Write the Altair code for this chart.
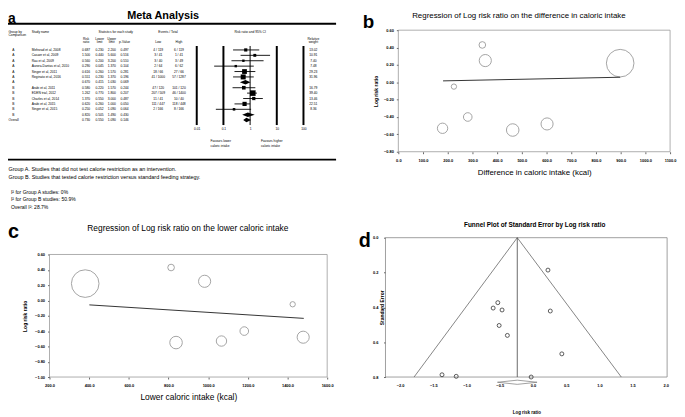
import altair as alt
import pandas as pd

FONT = "Liberation Sans"
W, H = 677, 409

# ---------------- panel a : meta-analysis table ----------------
a_group = ["A", "A", "A", "A", "A", "A", "A", "B", "B", "B", "B", "B", "B", "Overall"]
a_study = ["Mehrzad et al, 2008", "Casaer et al, 2009", "Rau et al, 2009",
           "Aurora-Dantas et al, 2010", "Singer et al, 2011", "Reginato et al, 2016", "",
           "Arabi et al, 2011", "EDEN trial, 2012", "Charles et al, 2014",
           "Arabi et al, 2015", "Singer et al, 2015", "", ""]
a_rr = [0.687, 1.500, 0.560, 0.290, 0.616, 0.551, 0.670, 0.580, 1.262, 1.370, 0.620, 0.250, 0.820, 0.730]
a_lo = [0.230, 0.440, 0.200, 0.045, 0.260, 0.230, 0.415, 0.220, 0.770, 0.550, 0.260, 0.052, 0.505, 0.550]
a_hi = [2.200, 5.600, 3.200, 1.370, 1.570, 1.370, 1.030, 1.570, 1.800, 3.000, 1.000, 1.090, 1.490, 1.090]
a_p = [0.497, 0.516, 0.510, 0.104, 0.281, 0.196, 0.069, 0.244, 0.207, 0.487, 0.050, 0.064, 0.430, 0.146]
a_low = ["4 / 119", "3 / 41", "3 / 40", "2 / 64", "18 / 66", "41 / 1000", "",
         "47 / 120", "207 / 509", "11 / 41", "111 / 447", "2 / 166", "", ""]
a_high = ["6 / 119", "1 / 41", "3 / 49", "6 / 62", "27 / 66", "57 / 1287", "",
          "101 / 120", "46 / 1400", "10 / 40", "118 / 448", "8 / 166", "", ""]
a_weight = [13.02, 10.91, 7.40, 7.48, 29.23, 31.96, None, 16.79, 39.40, 13.46, 22.51, 8.36, None, None]
a_summary = [6, 12, 13]
forest_ticks = [0.01, 0.1, 1, 10, 100]
forest_tick_width = [2, 2, 1, 2, 2]

# ---------------- panels b, c : meta-regressions ----------------
diff_kcal = [340, 352, 225, 281, 179, 463, 602, 898]
lower_kcal = [813, 982, 1426, 1182, 1067, 838, 1479, 380]
log_rr = [0.43, 0.25, -0.05, -0.40, -0.53, -0.55, -0.48, 0.22]
study_weight = [4.5, 15.1, 2.9, 7.6, 11.0, 16.1, 15.0, 78.0]
b_fit_x = [181, 898]
b_fit_y = [0.016, 0.058]
c_fit_x = [401, 1482]
c_fit_y = [-0.058, -0.234]
b_xticks = [0, 100, 200, 300, 400, 500, 600, 700, 800, 900, 1000, 1100]
b_yticks = [-0.8, -0.6, -0.4, -0.2, 0.0, 0.2, 0.4, 0.6]
c_xticks = [200, 400, 600, 800, 1000, 1200, 1400, 1600]
c_yticks = [-1.0, -0.8, -0.6, -0.4, -0.2, 0.0, 0.2, 0.4, 0.6]

# ---------------- panel d : funnel plot ----------------
d_lrr = [0.226, 0.261, 0.435, -0.529, -0.599, -0.465, -0.509, -0.385, -1.369, -1.155, -0.027]
d_se = [0.186, 0.421, 0.667, 0.373, 0.404, 0.415, 0.504, 0.561, 0.787, 0.796, 0.800]
funnel_x = [-1.79, -0.236, 1.33]
funnel_se = [0.8, 0.0, 0.8]
d_center = -0.236
d_ci = [-0.534, 0.062]
d_xdomain = [-2.22, 2.02]
d_xticks = [-2.0, -1.5, -1.0, -0.5, 0.0, 0.5, 1.0, 1.5, 2.0]
d_yticks = [0.0, 0.2, 0.4, 0.6, 0.8]


def txt(s, x, y, size, weight="normal", align="left", baseline="middle"):
    return alt.Chart(pd.DataFrame({"t": [s]})).mark_text(
        font=FONT, fontSize=size, fontWeight=weight, align=align, baseline=baseline, color="black"
    ).encode(x=alt.value(x), y=alt.value(y), text="t:N")


def hline(x1, x2, y, w):
    return alt.Chart(pd.DataFrame({"k": [0]})).mark_rule(color="black", strokeWidth=w).encode(
        x=alt.value(x1), x2=alt.value(x2), y=alt.value(y))


def axis(orient, offset, values, fmt, title, tsize, tweight, tpad, ticks=True, lpad=3, **extra):
    return alt.Axis(orient=orient, offset=offset, values=values, format=fmt, title=title,
                    titleFontSize=tsize, titleFontWeight=tweight, titlePadding=tpad,
                    titleColor="black", titleFont=FONT, labelFont=FONT,
                    labelFontSize=4, labelFontWeight="bold", labelColor="black",
                    labelPadding=lpad, ticks=ticks, tickSize=2, tickColor="#666",
                    domain=False, grid=False, labelFlush=False, labelOverlap=False, **extra)


layers = []

# ===== panel a =====
tx = alt.Scale(domain=[0, 1, 2, 3, 4, 5, 6, 7, 8],
               range=[5.5, 24, 79, 92.7, 105, 118, 152, 173, 309], nice=False, zero=False)
ry = alt.Scale(domain=[0, 13], range=[40, 111], nice=False, zero=False)

cells = []
for r in range(13):
    cells.append((r, 0, a_group[r]))
for r in range(14):
    cells.append((r, 2, f"{a_rr[r]:.3f}"))
    cells.append((r, 3, f"{a_lo[r]:.3f}"))
    cells.append((r, 4, f"{a_hi[r]:.3f}"))
    cells.append((r, 5, f"{a_p[r]:.3f}"))
    cells.append((r, 6, a_low[r]))
    cells.append((r, 7, a_high[r]))
    cells.append((r, 8, "" if a_weight[r] is None else f"{a_weight[r]:.2f}"))
headers = [(-2.0, 2, "Risk"), (-1.45, 2, "ratio"), (-2.0, 3, "Lower"), (-1.45, 3, "limit"),
           (-2.0, 4, "Upper"), (-1.45, 4, "limit"), (-1.45, 5, "p-Value"),
           (-1.45, 6, "Low"), (-1.45, 7, "High"), (-2.0, 8, "Relative"), (-1.45, 8, "weight")]
cells += headers
df_cells = pd.DataFrame(cells, columns=["row", "col", "t"])
layers.append(alt.Chart(df_cells).mark_text(font=FONT, fontSize=3.3, align="center", color="black").encode(
    x=alt.X("col:Q", scale=tx, axis=None), y=alt.Y("row:Q", scale=ry, axis=None), text="t:N"))

left_cells = [(r, 1, a_study[r]) for r in range(14)]
left_cells += [(-3.3, 1, "Study name"), (-3.3, 0, "Group by"), (-2.75, 0, "Comparison"), (13, 0, "Overall")]
df_names = pd.DataFrame(left_cells, columns=["row", "col", "t"])
df_names["col"] = df_names["col"].where(df_names["col"] == 1, -0.25)
layers.append(alt.Chart(df_names).mark_text(font=FONT, fontSize=3.3, align="left", color="black").encode(
    x=alt.X("col:Q", scale=alt.Scale(domain=[-0.25, 1], range=[0.5, 24], nice=False, zero=False), axis=None),
    y=alt.Y("row:Q", scale=ry, axis=None), text="t:N"))

fx = alt.Scale(type="log", domain=[0.01, 100], range=[191, 299], nice=False)
df_ft = pd.DataFrame({"v": forest_ticks, "sw": forest_tick_width})
layers.append(alt.Chart(df_ft).mark_rule(color="black").encode(
    x=alt.X("v:Q", scale=fx, axis=alt.Axis(orient="bottom", offset=-291.6, values=forest_ticks,
                                            labelExpr="format(datum.value, '~g')", ticks=False,
                                            domain=False, grid=False, labelFontSize=3.3,
                                            labelFont=FONT, labelColor="black", labelPadding=0,
                                            title=None, labelFlush=False, labelOverlap=False)),
    y=alt.value(36), y2=alt.value(116),
    strokeWidth=alt.StrokeWidth("sw:Q", scale=None, legend=None)))

study_rows = [r for r in range(14) if r not in a_summary]
df_fs = pd.DataFrame({"row": study_rows, "rr": [a_rr[r] for r in study_rows],
                      "lo": [a_lo[r] for r in study_rows], "hi": [a_hi[r] for r in study_rows],
                      "w": [a_weight[r] for r in study_rows]})
layers.append(alt.Chart(df_fs).mark_rule(color="black", strokeWidth=0.9).encode(
    x=alt.X("lo:Q", scale=fx, axis=None), x2="hi:Q", y=alt.Y("row:Q", scale=ry, axis=None)))
layers.append(alt.Chart(df_fs).mark_square(color="black", filled=True, opacity=1).encode(
    x=alt.X("rr:Q", scale=fx, axis=None), y=alt.Y("row:Q", scale=ry, axis=None),
    size=alt.Size("w:Q", scale=alt.Scale(domain=[0, 40], range=[0, 32]), legend=None)))

dia = []
for r in a_summary:
    dia.append((r, a_lo[r], r, r))
    dia.append((r, a_rr[r], r - 0.42, r + 0.42))
    dia.append((r, a_hi[r], r, r))
df_dia = pd.DataFrame(dia, columns=["id", "v", "y1", "y2"])
layers.append(alt.Chart(df_dia).mark_area(color="black").encode(
    x=alt.X("v:Q", scale=fx, axis=None), y=alt.Y("y1:Q", scale=ry, axis=None), y2="y2:Q",
    detail="id:N"))

layers += [
    txt("a", 0, 12.7, 14, "bold", baseline="alphabetic"),
    txt("Meta Analysis", 157, 5.5, 11, "bold", align="center"),
    hline(0, 332, 13.6, 2),
    hline(0, 332, 151, 2),
    txt("Statistics for each study", 109, 22, 3.3, align="center"),
    txt("Events / Total", 162, 22, 3.3, align="center"),
    txt("Risk ratio and 95% CI", 245, 22, 3.3, align="center"),
    txt("Favours lower", 205, 132, 3.3),
    txt("caloric intake", 205, 137.7, 3.3),
    txt("Favours higher", 256, 132, 3.3),
    txt("caloric intake", 256, 137.7, 3.3),
    txt("Group A. Studies that did not test calorie restriction as an intervention.", 0.5, 161, 5.5),
    txt("Group B. Studies that tested calorie restriction versus standard feeding strategy.", 0.5, 168.7, 5.5),
    txt("I\u00b2 for  Group A studies: 0%", 3, 183.7, 5.1),
    txt("I\u00b2 for Group B studies: 50.9%", 3, 191, 5.1),
    txt("Overall I\u00b2: 28.7%", 3, 198.5, 5.1),
]


# ===== panels b and c =====
def bubble_panel(xvals, fit_x, fit_y, xticks, yticks, xr, yr, xtitle, xoff, yoff, xtpad, ytpad, xtsize):
    sx = alt.Scale(domain=[xticks[0], xticks[-1]], range=xr, nice=False, zero=False)
    sy = alt.Scale(domain=[yticks[0], yticks[-1]], range=yr, nice=False, zero=False)
    ax = axis("bottom", xoff, xticks, ".1f", xtitle, xtsize, "normal", xtpad, lpad=4.5)
    ay = axis("left", yoff, yticks, ".2f", "Log risk ratio", 5, "bold", ytpad, lpad=3)
    box = pd.DataFrame({"x": [xticks[0]], "x2": [xticks[-1]], "y": [yticks[0]], "y2": [yticks[-1]]})
    out = [
        alt.Chart(box).mark_rect(fillOpacity=0, stroke="#999", strokeWidth=0.8).encode(
            x=alt.X("x:Q", scale=sx, axis=None), x2="x2:Q",
            y=alt.Y("y:Q", scale=sy, axis=None), y2="y2:Q"),
        alt.Chart(pd.DataFrame({"x": xvals, "y": log_rr, "w": study_weight})).mark_point(
            shape="circle", filled=False, color="#999", strokeWidth=0.9, opacity=1).encode(
            x=alt.X("x:Q", scale=sx, axis=ax), y=alt.Y("y:Q", scale=sy, axis=ay),
            size=alt.Size("w:Q", scale=alt.Scale(domain=[0, 80], range=[0, 800]), legend=None)),
        alt.Chart(pd.DataFrame({"x": fit_x, "y": fit_y})).mark_line(color="#333", strokeWidth=1).encode(
            x=alt.X("x:Q", scale=sx, axis=None), y=alt.Y("y:Q", scale=sy, axis=None)),
    ]
    return out


layers += bubble_panel(diff_kcal, b_fit_x, b_fit_y, b_xticks, b_yticks, [395, 670], [143, 20],
                       "Difference in caloric intake (kcal)", 143 - H, -395, 7, 5, 8)
layers += [txt("b", 359, 18, 19, "bold", baseline="alphabetic"),
           txt("Regression of Log risk ratio on the difference in caloric intake", 517, 6, 8, align="center")]

layers += bubble_panel(lower_kcal, c_fit_x, c_fit_y, c_xticks, c_yticks, [42, 323], [371, 247],
                       "Lower caloric intake (kcal)", 371 - H, -42, 5, 7, 8.5)
layers += [txt("c", 0, 230, 20, "bold", baseline="alphabetic"),
           txt("Regression of Log risk ratio on the lower caloric intake", 182, 220, 8.5, align="center")]

# ===== panel d =====
dx = alt.Scale(domain=d_xdomain, range=[382, 667], nice=False, zero=False)
dy = alt.Scale(domain=[d_yticks[0], d_yticks[-1]], range=[230, 371], nice=False, zero=False)
adx = axis("bottom", 371 - H, d_xticks, ".1f", "Log risk ratio", 4.5, "bold", 22, ticks=False, lpad=7)
ady = axis("left", -382, d_yticks, ".1f", "Standard Error", 5, "bold", 3, lpad=5.5,
           titleX=-0.5, titleY=300.5)
dbox = pd.DataFrame({"x": [d_xdomain[0]], "x2": [d_xdomain[1]], "y": [d_yticks[0]], "y2": [d_yticks[-1]]})
layers.append(alt.Chart(dbox).mark_rect(fillOpacity=0, stroke="#888", strokeWidth=0.8).encode(
    x=alt.X("x:Q", scale=dx, axis=None), x2="x2:Q", y=alt.Y("y:Q", scale=dy, axis=None), y2="y2:Q"))
layers.append(alt.Chart(pd.DataFrame({"x": funnel_x, "y": funnel_se})).mark_line(
    color="#666", strokeWidth=0.8).encode(
    x=alt.X("x:Q", scale=dx, axis=None), y=alt.Y("y:Q", scale=dy, axis=None), order="x:Q"))
layers.append(alt.Chart(pd.DataFrame({"x": [d_center], "y": [d_yticks[0]], "y2": [d_yticks[-1]]})).mark_rule(
    color="#444", strokeWidth=0.8).encode(
    x=alt.X("x:Q", scale=dx, axis=None), y=alt.Y("y:Q", scale=dy, axis=None), y2="y2:Q"))
layers.append(alt.Chart(pd.DataFrame({"x": d_lrr, "y": d_se})).mark_point(
    shape="circle", filled=False, color="#333", strokeWidth=0.8, size=16, opacity=1).encode(
    x=alt.X("x:Q", scale=dx, axis=adx), y=alt.Y("y:Q", scale=dy, axis=ady)))
ddia = pd.DataFrame({"x": [d_ci[0], d_center, d_ci[1]], "y1": [0.83, 0.818, 0.83], "y2": [0.83, 0.842, 0.83]})
layers.append(alt.Chart(ddia).mark_area(fillOpacity=0, stroke="#777", strokeWidth=0.7).encode(
    x=alt.X("x:Q", scale=dx, axis=None), y=alt.Y("y1:Q", scale=dy, axis=None), y2="y2:Q"))
layers += [txt("d", 355, 239, 20, "bold", baseline="alphabetic"),
           txt("Funnel Plot of Standard Error by Log risk ratio", 533, 217, 6.5, "bold", align="center")]

chart = alt.layer(*layers).resolve_scale(
    x="independent", y="independent", size="independent"
).resolve_axis(x="independent", y="independent").properties(
    width=W, height=H, autosize=alt.AutoSizeParams(type="none"), padding=0
).configure(font=FONT).configure_view(stroke=None)

chart.save("out.html", embed_options={"renderer": "svg", "actions": False})
